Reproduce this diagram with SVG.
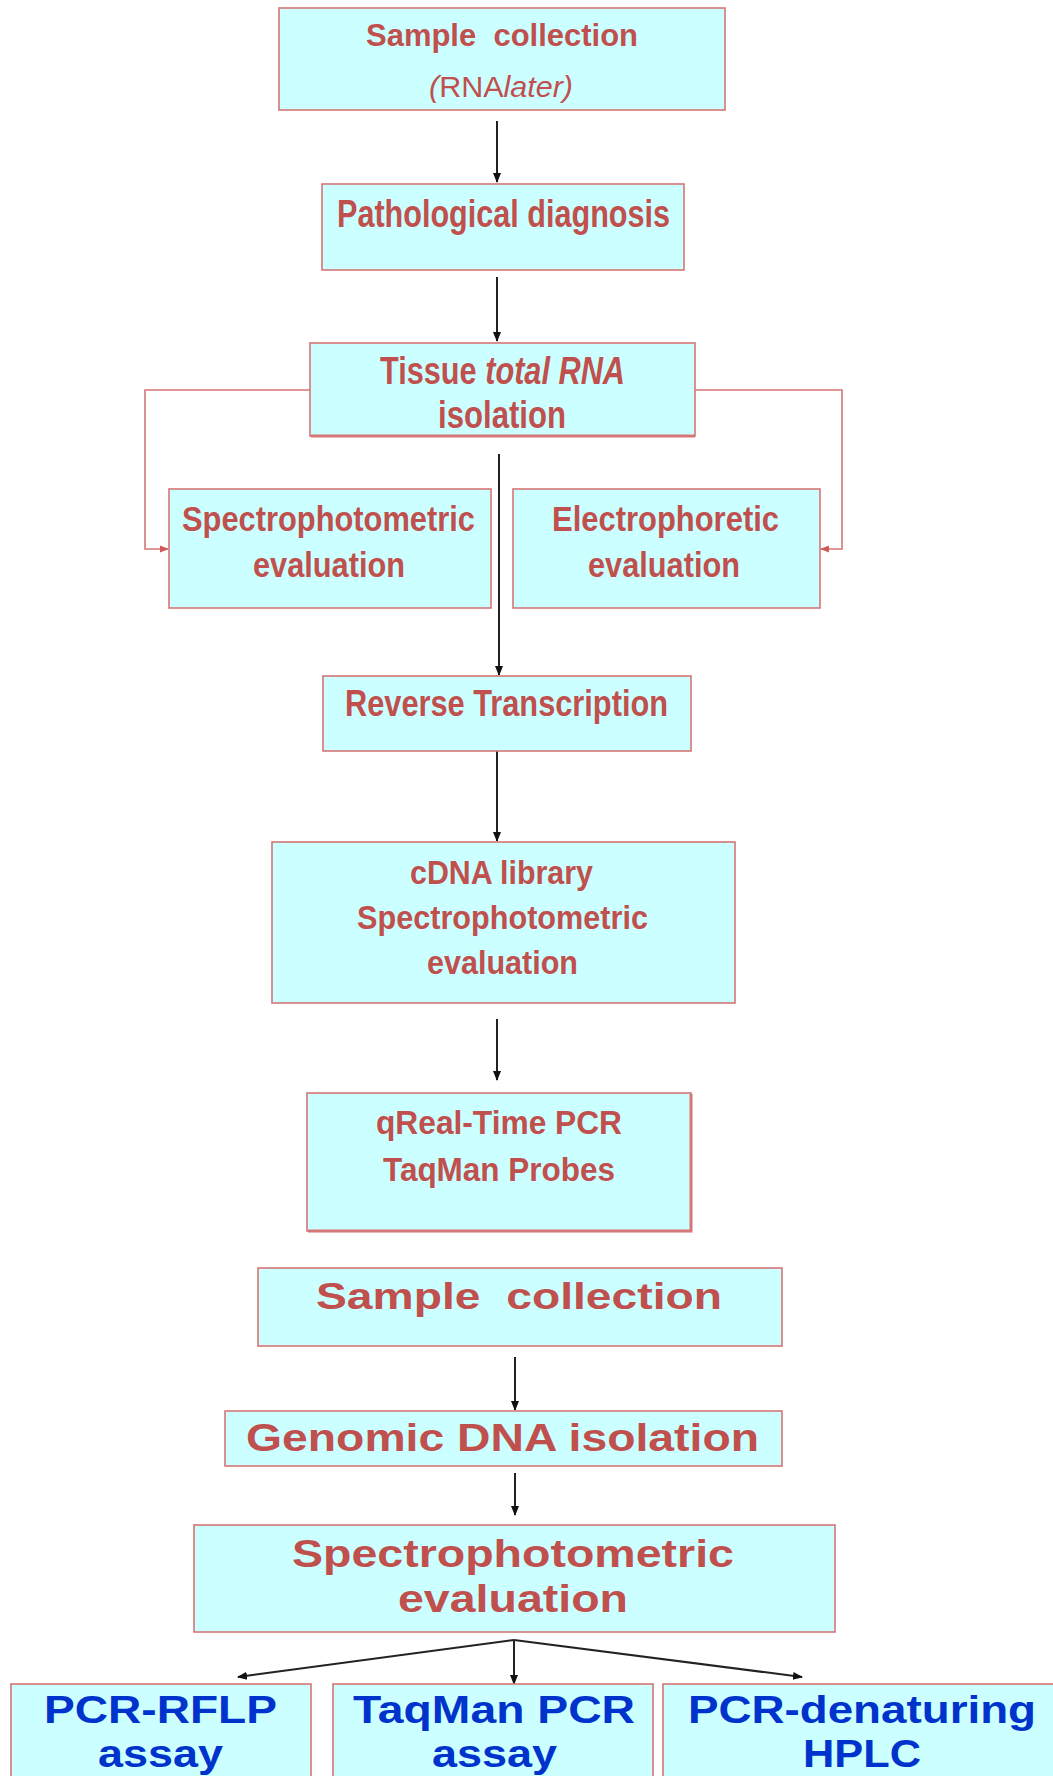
<svg xmlns="http://www.w3.org/2000/svg" width="1053" height="1776" viewBox="0 0 1053 1776">
<defs>
<style>
.box{fill:#CCFFFF;stroke:#D67676;stroke-width:1.6}
.sh{stroke:#D67676;stroke-width:3;fill:none}
.t{font-family:"Liberation Sans",Arial,sans-serif;font-weight:bold;fill:#C0504D}
.tr{font-family:"Liberation Sans",Arial,sans-serif;font-weight:normal;fill:#C0504D}
.tb{font-family:"Liberation Sans",Arial,sans-serif;font-weight:bold;fill:#0033CC}
.k{stroke:#222;stroke-width:2;fill:none}
.r{stroke:#D67676;stroke-width:1.6;fill:none}
</style>
<marker id="ak" markerWidth="10" markerHeight="10" refX="9" refY="5" orient="auto" markerUnits="userSpaceOnUse">
<path d="M0,1 L10,5 L0,9 Z" fill="#111"/>
</marker>
<marker id="ar" markerWidth="9" markerHeight="9" refX="8" refY="4.5" orient="auto" markerUnits="userSpaceOnUse">
<path d="M0,1 L9,4.5 L0,8 Z" fill="#D05A5A"/>
</marker>
</defs>
<rect width="1053" height="1776" fill="#FFFFFF"/>

<g id="connectors">
<line class="k" x1="497" y1="121" x2="497" y2="182" marker-end="url(#ak)"/>
<line class="k" x1="497" y1="277" x2="497" y2="341" marker-end="url(#ak)"/>
<polyline class="r" points="310,390 145,390 145,549 168,549" marker-end="url(#ar)"/>
<polyline class="r" points="695,390 842,390 842,549 821,549" marker-end="url(#ar)"/>
<line class="k" x1="499" y1="454" x2="499" y2="675" stroke-width="1.5" marker-end="url(#ak)"/>
<line class="k" x1="497" y1="751" x2="497" y2="841" marker-end="url(#ak)"/>
<line class="k" x1="497" y1="1019" x2="497" y2="1080" marker-end="url(#ak)"/>
<line class="k" x1="515" y1="1357" x2="515" y2="1410" marker-end="url(#ak)"/>
<line class="k" x1="515" y1="1473" x2="515" y2="1515" marker-end="url(#ak)"/>
<line class="k" x1="514" y1="1640" x2="238" y2="1677" marker-end="url(#ak)"/>
<line class="k" x1="514" y1="1640" x2="514" y2="1684" marker-end="url(#ak)"/>
<line class="k" x1="514" y1="1640" x2="802" y2="1677" marker-end="url(#ak)"/>
</g>

<g id="n1">
<rect class="box" x="279" y="8" width="446" height="102"/>
<text class="t" x="366" y="46" font-size="31" textLength="272" lengthAdjust="spacingAndGlyphs" xml:space="preserve">Sample  collection</text>
<text class="tr" x="429" y="97" font-size="30" textLength="144" lengthAdjust="spacingAndGlyphs"><tspan font-style="italic">(</tspan>RNA<tspan font-style="italic">later)</tspan></text>
</g>

<g id="n2">
<rect class="box" x="322" y="184" width="362" height="86"/>
<text class="t" x="337" y="227" font-size="38" textLength="333" lengthAdjust="spacingAndGlyphs">Pathological diagnosis</text>
</g>

<g id="n3">
<rect class="box" x="310" y="343" width="385" height="93"/>
<line class="sh" x1="311" y1="436" x2="695" y2="436"/>
<text class="t" x="380" y="384" font-size="38" textLength="245" lengthAdjust="spacingAndGlyphs">Tissue <tspan font-style="italic">total RNA</tspan></text>
<text class="t" x="438" y="428" font-size="38" textLength="128" lengthAdjust="spacingAndGlyphs">isolation</text>
</g>

<g id="n4">
<rect class="box" x="169" y="489" width="322" height="119"/>
<text class="t" x="182" y="531" font-size="35" textLength="293" lengthAdjust="spacingAndGlyphs">Spectrophotometric</text>
<text class="t" x="253" y="577" font-size="35" textLength="152" lengthAdjust="spacingAndGlyphs">evaluation</text>
</g>

<g id="n5">
<rect class="box" x="513" y="489" width="307" height="119"/>
<text class="t" x="552" y="531" font-size="35" textLength="227" lengthAdjust="spacingAndGlyphs">Electrophoretic</text>
<text class="t" x="588" y="577" font-size="35" textLength="152" lengthAdjust="spacingAndGlyphs">evaluation</text>
</g>

<g id="n6">
<rect class="box" x="323" y="676" width="368" height="75"/>
<text class="t" x="345" y="716" font-size="36" textLength="323" lengthAdjust="spacingAndGlyphs">Reverse Transcription</text>
</g>

<g id="n7">
<rect class="box" x="272" y="842" width="463" height="161"/>
<text class="t" x="410" y="884" font-size="33" textLength="183" lengthAdjust="spacingAndGlyphs">cDNA library</text>
<text class="t" x="357" y="929" font-size="33" textLength="291" lengthAdjust="spacingAndGlyphs">Spectrophotometric</text>
<text class="t" x="427" y="974" font-size="33" textLength="151" lengthAdjust="spacingAndGlyphs">evaluation</text>
</g>

<g id="n8">
<rect class="box" x="307" y="1093" width="384" height="138"/>
<polyline class="sh" points="308,1231 691,1231 691,1094"/>
<text class="t" x="376" y="1134" font-size="34" textLength="246" lengthAdjust="spacingAndGlyphs">qReal-Time PCR</text>
<text class="t" x="383" y="1181" font-size="34" textLength="232" lengthAdjust="spacingAndGlyphs">TaqMan Probes</text>
</g>

<g id="n9">
<rect class="box" x="258" y="1268" width="524" height="78"/>
<text class="t" x="316" y="1309" font-size="36" textLength="406" lengthAdjust="spacingAndGlyphs" xml:space="preserve">Sample  collection</text>
</g>

<g id="n10">
<rect class="box" x="225" y="1411" width="557" height="55"/>
<text class="t" x="246" y="1451" font-size="38" textLength="513" lengthAdjust="spacingAndGlyphs">Genomic DNA isolation</text>
</g>

<g id="n11">
<rect class="box" x="194" y="1525" width="641" height="107"/>
<text class="t" x="292" y="1567" font-size="38" textLength="442" lengthAdjust="spacingAndGlyphs">Spectrophotometric</text>
<text class="t" x="398" y="1612" font-size="38" textLength="230" lengthAdjust="spacingAndGlyphs">evaluation</text>
</g>

<g id="n12">
<rect class="box" x="11" y="1684" width="300" height="100"/>
<text class="tb" x="44" y="1723" font-size="39" textLength="233" lengthAdjust="spacingAndGlyphs">PCR-RFLP</text>
<text class="tb" x="98" y="1767" font-size="39" textLength="125" lengthAdjust="spacingAndGlyphs">assay</text>
</g>

<g id="n13">
<rect class="box" x="333" y="1684" width="320" height="100"/>
<text class="tb" x="353" y="1723" font-size="39" textLength="282" lengthAdjust="spacingAndGlyphs">TaqMan PCR</text>
<text class="tb" x="432" y="1767" font-size="39" textLength="125" lengthAdjust="spacingAndGlyphs">assay</text>
</g>

<g id="n14">
<rect class="box" x="663" y="1684" width="400" height="100"/>
<text class="tb" x="688" y="1723" font-size="39" textLength="348" lengthAdjust="spacingAndGlyphs">PCR-denaturing</text>
<text class="tb" x="803" y="1767" font-size="39" textLength="118" lengthAdjust="spacingAndGlyphs">HPLC</text>
</g>
</svg>
